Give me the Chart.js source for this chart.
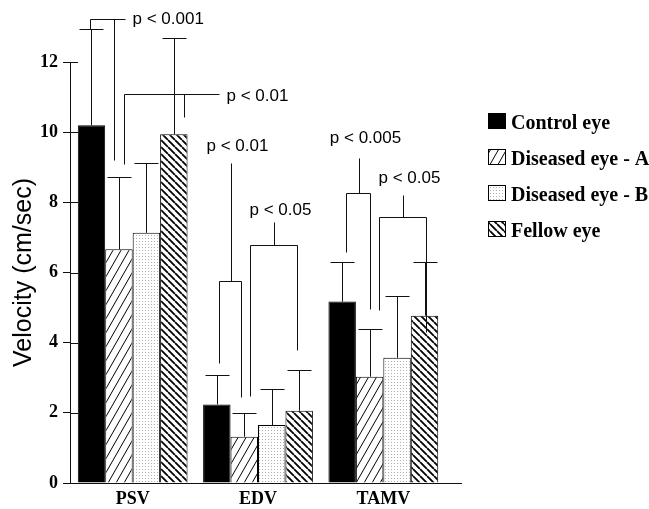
<!DOCTYPE html>
<html>
<head>
<meta charset="utf-8">
<script src="https://cdn.jsdelivr.net/npm/chart.js@4.4.1/dist/chart.umd.min.js"></script>
<style>
  html, body { margin: 0; padding: 0; background: #fff; }
</style>
</head>
<body>
<canvas id="chart" width="649" height="509"></canvas>
<script>
// categories and groups
const categories = ['PSV', 'EDV', 'TAMV'];
const seriesNames = ['Control eye', 'Diseased eye - A', 'Diseased eye - B', 'Fellow eye'];

// mean velocity (cm/sec) and SD for each group
const controlMean = [10.2, 2.24, 5.17];
const controlSd = [2.73, 0.83, 1.14];
const diseasedAMean = [6.66, 1.32, 3.03];
const diseasedASd = [2.07, 0.67, 1.35];
const diseasedBMean = [7.13, 1.65, 3.57];
const diseasedBSd = [2.0, 1.04, 1.77];
const fellowMean = [9.94, 2.06, 4.77];
const fellowSd = [2.75, 1.16, 1.54];

// y axis
const yTicks = [0, 2, 4, 6, 8, 10, 12];

// significance brackets (values in cm/sec)
const sigLabels = ['p < 0.001', 'p < 0.01', 'p < 0.01', 'p < 0.05', 'p < 0.005', 'p < 0.05'];
const sigGroup = [0, 0, 1, 1, 2, 2];
const sigFrom = [0, 1, 0, 1, 0, 1];
const sigTo = [1, 3, 1, 3, 1, 3];
const sigTop = [13.22, 11.08, 5.75, 6.78, 8.27, 7.59];
const sigFromEnd = [12.93, 9.09, 3.43, 2.48, 6.59, 4.93];
const sigToEnd = [9.2, 10.43, 2.46, 3.79, 4.95, 4.31];
const sigStem = [null, null, 9.12, 7.44, 9.26, 8.21];
const sigLabelAt = [13.22, 11.03, 9.6, 7.78, 9.83, 8.69];

// little pixel nudges so the bracket legs clear the error bars
const sigFromDx = [-1, 5, 2, 6, 4, 9];
const sigToDx = [-5, 10, -3, -2, 0, 1];
const sigTail = [11, 35, 0, 0, 0, 0];

function stripes(w, h, lw, back) {
  const c = document.createElement('canvas');
  c.width = w; c.height = h;
  const g = c.getContext('2d');
  g.fillStyle = '#fff';
  g.fillRect(0, 0, w, h);
  g.strokeStyle = '#000';
  g.lineWidth = lw;
  g.beginPath();
  for (let k = -1; k <= 1; k++) {
    if (back) { g.moveTo(k * w, 0); g.lineTo(k * w + w, h); }
    else { g.moveTo(k * w, h); g.lineTo(k * w + w, 0); }
  }
  g.stroke();
  return g.createPattern(c, 'repeat');
}

function stipple() {
  const c = document.createElement('canvas');
  c.width = 3; c.height = 3;
  const g = c.getContext('2d');
  g.fillStyle = '#fff';
  g.fillRect(0, 0, 3, 3);
  g.fillStyle = '#b0b0b0';
  g.fillRect(1, 1, 1, 1);
  return g.createPattern(c, 'repeat');
}

const fills = ['#000', stripes(8, 14, 1, false), stipple(), stripes(7, 7, 1.8, true)];
const means = [controlMean, diseasedAMean, diseasedBMean, fellowMean];
const sds = [controlSd, diseasedASd, diseasedBSd, fellowSd];

const serif = "'Liberation Serif', 'Times New Roman', serif";
const sans = "'Liberation Sans', Arial, sans-serif";

// error bars, brackets, inner tick marks and legend
const overlay = {
  id: 'overlay',
  afterDraw(chart) {
    const ctx = chart.ctx;
    const y = chart.scales.y;
    const area = chart.chartArea;
    const py = v => Math.round(y.getPixelForValue(v)) + 0.5;
    ctx.save();
    ctx.strokeStyle = '#111';
    ctx.lineWidth = 1;

    // inward part of y ticks + baseline extension
    ctx.beginPath();
    y.ticks.forEach(t => {
      const yy = py(t.value);
      ctx.moveTo(area.left, yy);
      ctx.lineTo(area.left + 8, yy);
    });
    ctx.moveTo(area.right, area.bottom + 0.5);
    ctx.lineTo(area.right + 16, area.bottom + 0.5);
    ctx.stroke();

    // error bars
    chart.data.datasets.forEach((ds, di) => {
      chart.getDatasetMeta(di).data.forEach((bar, gi) => {
        const x = Math.round(bar.x) + 0.5;
        const top = py(ds.data[gi] + ds.sd[gi]);
        ctx.beginPath();
        ctx.moveTo(x, bar.y);
        ctx.lineTo(x, top);
        ctx.moveTo(x - 12, top);
        ctx.lineTo(x + 12, top);
        ctx.stroke();
      });
    });

    // significance brackets
    ctx.fillStyle = '#000';
    ctx.font = '17px ' + sans;
    ctx.textBaseline = 'middle';
    sigLabels.forEach((lab, i) => {
      const g = sigGroup[i];
      const x1 = Math.round(chart.getDatasetMeta(sigFrom[i]).data[g].x + sigFromDx[i]) + 0.5;
      const x2 = Math.round(chart.getDatasetMeta(sigTo[i]).data[g].x + sigToDx[i]) + 0.5;
      const yt = py(sigTop[i]);
      ctx.beginPath();
      ctx.moveTo(x1, py(sigFromEnd[i]));
      ctx.lineTo(x1, yt);
      ctx.lineTo(x2 + sigTail[i], yt);
      ctx.moveTo(x2, yt);
      ctx.lineTo(x2, py(sigToEnd[i]));
      if (sigStem[i] !== null) {
        const xm = Math.round((x1 + x2) / 2) + 0.5;
        ctx.moveTo(xm, yt);
        ctx.lineTo(xm, py(sigStem[i]));
        ctx.stroke();
        ctx.textAlign = 'center';
        ctx.fillText(lab, xm + 6, y.getPixelForValue(sigLabelAt[i]));
      } else {
        ctx.stroke();
        ctx.textAlign = 'left';
        ctx.fillText(lab, x2 + sigTail[i] + 7, y.getPixelForValue(sigLabelAt[i]));
      }
    });

    // legend
    ctx.font = 'bold 20px ' + serif;
    ctx.textAlign = 'left';
    ctx.textBaseline = 'alphabetic';
    chart.data.datasets.forEach((ds, di) => {
      const base = 129 + di * 36;
      ctx.fillStyle = ds.backgroundColor;
      ctx.fillRect(488, base - 16, 18, 16);
      ctx.strokeStyle = '#000';
      ctx.strokeRect(488.5, base - 15.5, 17, 15);
      ctx.fillStyle = '#000';
      ctx.fillText(ds.label, 511, base);
    });
    ctx.restore();
  }
};

new Chart(document.getElementById('chart'), {
  type: 'bar',
  data: {
    labels: categories,
    datasets: seriesNames.map((name, i) => ({
      label: name,
      data: means[i],
      sd: sds[i],
      backgroundColor: fills[i],
      borderColor: '#000',
      borderWidth: 1,
      barPercentage: 1,
      categoryPercentage: 0.876
    }))
  },
  options: {
    responsive: false,
    animation: false,
    devicePixelRatio: 1,
    layout: { padding: { top: 62, right: 203, left: 0, bottom: 0 } },
    plugins: { legend: { display: false }, tooltip: { enabled: false } },
    scales: {
      x: {
        grid: { display: false, drawTicks: false },
        border: { display: true, color: '#111', width: 1 },
        ticks: { color: '#000', padding: 6, font: { family: serif, size: 18, weight: 'bold' } },
        afterFit: s => { s.height = 26; }
      },
      y: {
        min: 0,
        max: 12,
        afterBuildTicks: s => { s.ticks = yTicks.map(v => ({ value: v })); },
        grid: { display: true, drawOnChartArea: false, drawTicks: true, tickLength: 7, color: '#111' },
        border: { display: true, color: '#111', width: 1 },
        ticks: { color: '#000', padding: 5, font: { family: serif, size: 18, weight: 'bold' } },
        title: {
          display: true,
          text: 'Velocity (cm/sec)',
          color: '#000',
          font: { family: sans, size: 25 },
          padding: { top: 9, bottom: 0 }
        },
        afterFit: s => { s.width = 70; }
      }
    }
  },
  plugins: [overlay]
});
</script>
</body>
</html>
